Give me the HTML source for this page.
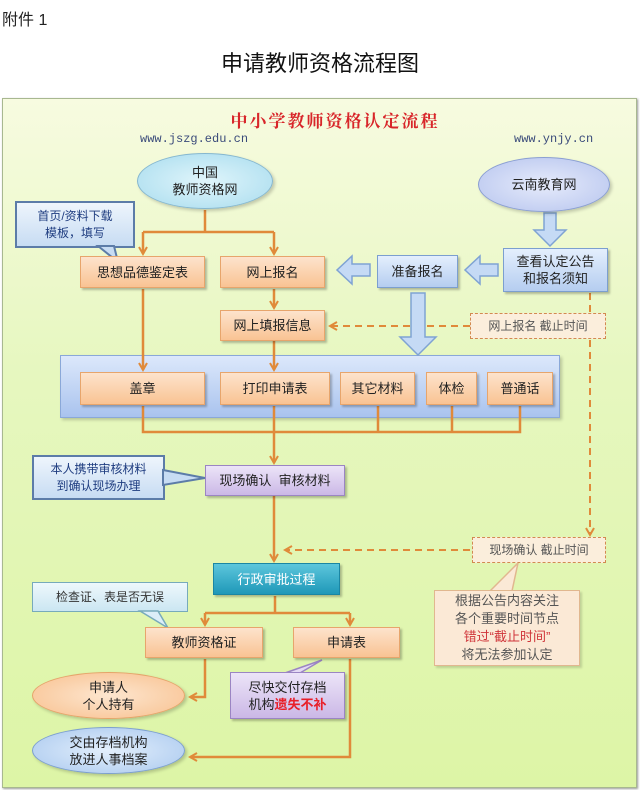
<!DOCTYPE html>
<html><head><meta charset="utf-8"><style>
*{margin:0;padding:0;box-sizing:border-box}
body{width:640px;height:790px;background:#fff;position:relative;overflow:hidden;font-family:"Liberation Sans","Noto Sans CJK SC",sans-serif}
.a{position:absolute}
.t{position:absolute;display:flex;align-items:center;justify-content:center;text-align:center;font-size:13px;color:#222;line-height:17px}
.t>div{white-space:nowrap}
.o{background:linear-gradient(#fde3cc,#f9c393);border:1px solid #e7a56c;box-shadow:2px 2px 2px rgba(0,0,0,.25)}
.b{background:linear-gradient(#e4effd,#b5cdf0);border:1px solid #7c9fcf;box-shadow:2px 2px 2px rgba(0,0,0,.25)}
.p{background:linear-gradient(#ece4f8,#cbb8e6);border:1px solid #9b85c3;box-shadow:2px 2px 2px rgba(0,0,0,.25)}
.el{border-radius:50%}
.call{background:linear-gradient(#eef5fc,#c7dcf3);border:2px solid #5c7ca8;color:#1f3d80}
.dash{border:1.5px dashed #d28a50;background:#fbeedc;color:#555}
</style></head><body>
<div class="a" style="left:2px;top:6px;font-size:16px;color:#222">附件 1</div>
<div class="a" style="left:0;width:640px;top:46px;text-align:center;font-size:22px;color:#111">申请教师资格流程图</div>
<div class="a" style="left:2px;top:98px;width:635px;height:690px;border:1px solid #a8b890;background:linear-gradient(#f7fbe0,#e6f7bf 40%,#ddf5a6);box-shadow:1px 1px 2px #999"></div>
<div class="a" style="left:0;width:640px;top:107px;padding-left:30px;text-align:center;font-size:17px;font-weight:bold;color:#d8262a;font-family:'Noto Serif CJK SC',serif;letter-spacing:2px">中小学教师资格认定流程</div>
<div class="a" style="left:140px;top:132px;font-size:12px;color:#3a4a7a;font-family:'Liberation Mono',monospace">www.jszg.edu.cn</div>
<div class="a" style="left:514px;top:132px;font-size:12px;color:#3a4a7a;font-family:'Liberation Mono',monospace">www.ynjy.cn</div>
<div class="a" style="left:60px;top:355px;width:500px;height:63px;background:linear-gradient(#dce8fb,#a9c3ee);border:1px solid #8aa8d8;box-shadow:2px 2px 3px rgba(0,0,0,.2)"></div>
<svg class="a" style="left:0;top:0" width="640" height="790">
<defs><marker id="ar" markerWidth="10" markerHeight="10" refX="8" refY="5" orient="auto" markerUnits="userSpaceOnUse"><path d="M1,1 L8,5 L1,9" fill="none" stroke="#e08a3a" stroke-width="2"/></marker></defs>
<g fill="none" stroke="#e08a3a" stroke-width="2.5">
<path d="M205 210 V232 M143 232 H274"/>
<path d="M143 232 V254" marker-end="url(#ar)"/><path d="M274 232 V254" marker-end="url(#ar)"/>
<path d="M274 289 V308" marker-end="url(#ar)"/>
<path d="M143 289 V370" marker-end="url(#ar)"/><path d="M274 341 V370" marker-end="url(#ar)"/>
<path d="M143 406 V432 H520 V406 M274 406 V432 M378 406 V432 M452 406 V432"/>
<path d="M274 432 V463" marker-end="url(#ar)"/>
<path d="M274 496 V561" marker-end="url(#ar)"/>
<path d="M275 596 V613 M205 613 H350"/>
<path d="M205 613 V625" marker-end="url(#ar)"/><path d="M350 613 V625" marker-end="url(#ar)"/>
<path d="M205 659 V697 H190" marker-end="url(#ar)"/>
<path d="M350 659 V757 H190" marker-end="url(#ar)"/>
</g>
<g fill="none" stroke="#e08a3a" stroke-width="2" stroke-dasharray="7,5">
<path d="M470 326 H330" marker-end="url(#ar)"/>
<path d="M590 293 V312"/>
<path d="M590 340 V535" marker-end="url(#ar)"/>
<path d="M470 550 H285" marker-end="url(#ar)"/>
</g>
<g fill="#c5daf5" stroke="#7fa3d3" stroke-width="1.5">
<path d="M544 213 H556 V230 H566 L550 246 L534 230 H544 Z"/>
<path d="M498 264 V276 H480 V284 L465 270 L480 256 V264 Z"/>
<path d="M370 264 V276 H352 V284 L337 270 L352 256 V264 Z"/>
<path d="M411 293 H425 V337 H436 L418 355 L400 337 H411 Z"/>
</g>
</svg>
<div class="t el" style="left:137px;top:153px;width:136px;height:56px;background:radial-gradient(#e0f5fb,#a8dcee);border:1px solid #86b7cf;box-shadow:2px 2px 3px rgba(0,0,0,.2)"><div>中国<br>教师资格网</div></div>
<div class="t el" style="left:478px;top:157px;width:132px;height:55px;background:radial-gradient(#e6ebfb,#b6c4ee);border:1px solid #8b9fd2;box-shadow:2px 2px 3px rgba(0,0,0,.2)"><div>云南教育网</div></div>
<div class="t call" style="left:15px;top:201px;width:120px;height:47px;font-size:12px"><div>首页/资料下载<br>模板，填写</div></div>
<div class="t call" style="left:32px;top:455px;width:133px;height:45px;font-size:12px"><div>本人携带审核材料<br>到确认现场办理</div></div>
<div class="t" style="left:32px;top:582px;width:156px;height:30px;background:linear-gradient(#eef8fc,#cbe6f2);border:1px solid #7ab;color:#333;font-size:12px"><div>检查证、表是否无误</div></div>
<svg class="a" style="left:0;top:0" width="640" height="790">
<path d="M98 246 L118 262 L114 246 Z" fill="#c7dcf3" stroke="#5c7ca8" stroke-width="2"/>
<path d="M163 470 L205 478 L163 485 Z" fill="#c7dcf3" stroke="#5c7ca8" stroke-width="2"/>
<path d="M140 611 L168 628 L158 611 Z" fill="#dceef8" stroke="#7ab" stroke-width="1.5"/>
<path d="M300 673 L322 660 L285 673 Z" fill="#e4daf4" stroke="#9b85c3" stroke-width="1.5"/>
<path d="M490 591 L518 563 L512 591 Z" fill="#fbe9d6" stroke="#e1b78f" stroke-width="1.5"/>
</svg>
<div class="t o" style="left:80px;top:256px;width:125px;height:32px"><div>思想品德鉴定表</div></div>
<div class="t o" style="left:220px;top:256px;width:105px;height:32px"><div>网上报名</div></div>
<div class="t b" style="left:377px;top:255px;width:81px;height:33px"><div>准备报名</div></div>
<div class="t b" style="left:503px;top:248px;width:105px;height:44px"><div>查看认定公告<br>和报名须知</div></div>
<div class="t o" style="left:220px;top:310px;width:105px;height:31px"><div>网上填报信息</div></div>
<div class="t dash" style="left:470px;top:313px;width:136px;height:26px;font-size:12px"><div>网上报名 截止时间</div></div>
<div class="t o" style="left:80px;top:372px;width:125px;height:33px"><div>盖章</div></div>
<div class="t o" style="left:220px;top:372px;width:110px;height:33px"><div>打印申请表</div></div>
<div class="t o" style="left:340px;top:372px;width:75px;height:33px"><div>其它材料</div></div>
<div class="t o" style="left:426px;top:372px;width:51px;height:33px"><div>体检</div></div>
<div class="t o" style="left:487px;top:372px;width:66px;height:33px"><div>普通话</div></div>
<div class="t p" style="left:205px;top:465px;width:140px;height:31px"><div>现场确认&nbsp; 审核材料</div></div>
<div class="t dash" style="left:472px;top:537px;width:134px;height:26px;font-size:12px"><div>现场确认 截止时间</div></div>
<div class="t" style="left:213px;top:563px;width:127px;height:32px;background:linear-gradient(#5cc6dc,#1f98b8);border:1px solid #1a86a4;color:#fff;box-shadow:2px 2px 2px rgba(0,0,0,.25)"><div>行政审批过程</div></div>
<div class="t" style="left:434px;top:590px;width:146px;height:76px;background:#fbe9d6;border:1px solid #e1b78f;font-size:13px;color:#555;line-height:18px;box-shadow:2px 2px 2px rgba(0,0,0,.15)"><div>根据公告内容关注<br>各个重要时间节点<br><span style="color:#d0353a">错过“截止时间”</span><br>将无法参加认定</div></div>
<div class="t o" style="left:145px;top:627px;width:118px;height:31px"><div>教师资格证</div></div>
<div class="t o" style="left:293px;top:627px;width:107px;height:31px"><div>申请表</div></div>
<div class="t el" style="left:32px;top:672px;width:153px;height:47px;background:radial-gradient(#fde6cf,#f8c08e);border:1px solid #e5a46a;box-shadow:2px 2px 3px rgba(0,0,0,.2)"><div>申请人<br>个人持有</div></div>
<div class="t p" style="left:230px;top:672px;width:115px;height:47px"><div>尽快交付存档<br>机构<b style="color:#e8202a">遗失不补</b></div></div>
<div class="t el" style="left:32px;top:727px;width:153px;height:47px;background:radial-gradient(#e3effc,#a9c8ee);border:1px solid #7c9fcf;box-shadow:2px 2px 3px rgba(0,0,0,.2)"><div>交由存档机构<br>放进人事档案</div></div>
</body></html>
